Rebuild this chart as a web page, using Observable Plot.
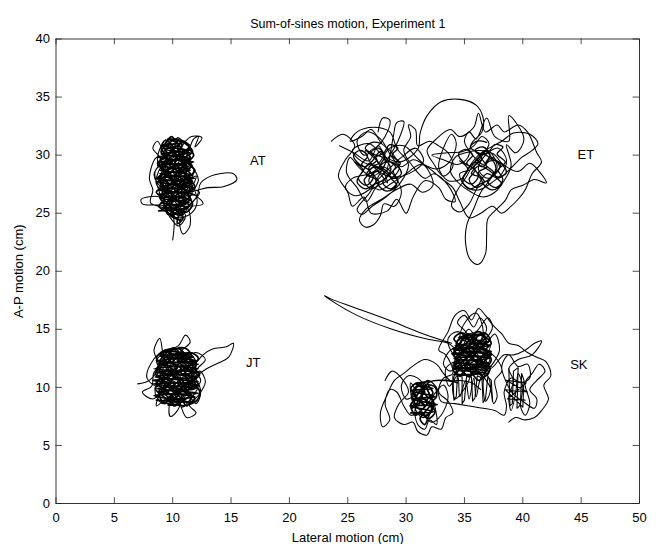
<!DOCTYPE html>
<html>
<head>
<meta charset="utf-8">
<script src="https://cdn.jsdelivr.net/npm/d3@7"></script>
<script src="https://cdn.jsdelivr.net/npm/@observablehq/plot@0.6"></script>
<style>
  html, body { margin: 0; padding: 0; background: #fff; }
  svg { font-family: "Liberation Sans", Arial, sans-serif; }
</style>
</head>
<body>
<div id="chart"></div>
<script>
const titleText = "Sum-of-sines motion, Experiment 1";
const xTicks = [0, 5, 10, 15, 20, 25, 30, 35, 40, 45, 50];
const yTicks = [0, 5, 10, 15, 20, 25, 30, 35, 40];

const AT = [[10.0,22.7],[10.1,24.5],[9.6,25.8],[8.9,26.4],[7.3,26.2],[7.4,25.8],[8.8,25.7],[10.5,25.6],[12.6,25.8],[11.8,26.6],[9.2,27.1],[8.4,28.3],[9.0,29.6],[8.3,30.6],[8.7,31.2],[9.3,30.2],[9.6,31.4],[10.0,30.1],[10.4,31.5],[10.9,31.2],[11.5,30.8],[10.8,29.7],[11.6,29.0],[10.2,28.6],[9.1,28.0],[9.8,27.2],[11.0,27.6],[12.0,28.2],[11.4,26.9],[10.3,26.2],[9.4,26.8],[8.6,27.5],[9.0,29.0],[10.1,29.9],[11.3,29.4],[12.2,27.9],[11.9,27.0],[13.0,27.2],[14.4,27.3],[15.5,27.9],[15.2,28.4],[13.6,28.3],[12.4,27.6],[12.1,26.5],[11.2,25.3],[10.6,24.2],[10.9,23.2],[11.5,24.0],[11.2,25.5],[10.0,25.0],[9.2,25.9],[8.8,27.0],[8.5,28.6],[9.4,29.3],[10.6,28.4],[11.5,27.5],[10.7,26.8],[9.6,27.6],[9.2,28.9],[9.9,30.4],[10.8,30.0],[11.2,28.8],[10.4,27.4],[9.3,26.4],[9.6,25.1],[10.4,24.6],[11.6,25.0],[12.1,26.1],[11.4,27.7],[10.3,28.0],[9.5,28.6],[8.7,29.5],[9.1,30.8],[9.8,29.1],[10.7,29.1],[11.3,30.2],[11.8,31.4],[12.2,31.6],[11.9,30.7],[12.5,31.5],[11.6,31.6],[10.7,30.6],[10.2,29.2],[9.8,28.0],[10.9,27.3],[11.8,28.6],[11.0,29.9],[9.9,29.7],[9.0,28.4],[8.9,27.6],[9.7,26.5],[10.9,26.0],[11.7,26.9],[11.1,28.2],[10.1,27.8],[9.4,27.0],[10.0,26.2],[11.1,24.8],[10.5,23.9],[9.8,24.6],[9.3,25.4],[8.1,25.9],[8.3,27.0],[8.0,28.0],[8.6,29.8],[9.5,30.0],[10.3,30.8],[10.6,29.6],[10.0,28.6],[10.8,27.9],[11.6,27.1],[12.3,26.8],[11.6,25.9],[10.5,25.1],[9.9,26.0],[10.2,27.1],[10.6,28.7],[9.7,29.7],[9.3,28.1],[9.9,27.0]];

const AT_core = [[9.2,25.4],[9.8,26.1],[9.1,26.8],[9.7,27.5],[9.0,28.1],[9.6,28.9],[8.9,29.5],[9.5,30.2],[9.1,30.9],[9.9,30.5],[10.3,29.8],[9.7,29.2],[10.4,28.6],[9.8,27.9],[10.5,27.2],[9.9,26.5],[10.6,25.9],[10.0,25.2],[10.7,24.8],[11.0,25.5],[10.5,26.2],[11.2,26.8],[10.6,27.5],[11.3,28.1],[10.7,28.8],[11.3,29.4],[10.8,30.1],[11.4,30.7],[10.9,31.2],[10.4,30.6],[10.9,30.0],[10.2,29.4],[10.8,28.5],[10.1,27.9],[10.8,27.0],[10.2,26.4],[10.9,25.7],[11.5,26.3],[11.0,27.1],[11.7,27.7],[11.1,28.4],[11.6,29.1],[11.0,29.7],[11.7,30.3],[11.2,30.9],[10.6,31.3],[10.0,30.9],[9.4,31.3],[9.0,30.6],[9.4,29.9],[8.7,29.3],[9.3,28.6],[8.7,28.0],[9.2,27.4],[8.6,26.8],[9.3,26.2],[8.8,25.6],[9.5,25.1],[10.2,24.6],[9.7,25.6],[10.3,26.3],[9.6,26.9],[10.3,27.6],[9.5,28.2],[10.2,28.9],[9.6,29.6],[10.2,30.2],[9.6,30.8],[10.3,31.4],[10.8,30.8],[10.2,30.0],[10.9,29.2],[10.3,28.4],[11.0,27.7],[10.4,27.0],[11.1,26.3],[10.5,25.5],[11.2,25.1],[11.7,25.8],[11.3,26.6],[11.9,27.3],[11.4,28.0],[11.9,28.7],[11.3,29.3],[11.8,30.0],[11.3,30.5],[10.7,29.8],[11.2,29.0],[10.5,28.3],[11.1,27.5],[10.4,26.8],[11.0,26.0],[10.3,25.4],[9.6,24.9],[9.3,25.7],[8.9,26.4],[9.5,27.0],[8.9,27.7],[9.5,28.4],[8.9,29.0],[9.5,29.6],[9.0,30.3],[9.7,31.0],[10.1,30.4],[9.5,29.9],[10.1,29.1],[9.4,28.5],[10.1,27.8],[9.4,27.2],[10.1,26.6],[9.5,25.9],[10.2,25.3],[10.9,24.6],[10.4,24.1],[10.6,25.0],[11.4,25.6],[10.8,26.4],[11.5,27.0],[10.9,27.8],[11.5,28.4],[10.9,29.0],[11.5,29.8],[10.9,30.4],[10.4,31.0],[9.9,31.6],[9.3,30.9]];

const AT_hatch = [[8.8,25.2],[11.3,25.5],[9.0,25.9],[11.6,26.2],[8.7,26.6],[11.8,26.9],[8.9,27.3],[11.5,27.6],[8.6,28.0],[11.7,28.3],[8.9,28.7],[11.4,29.0],[8.8,29.4],[11.6,29.7],[9.0,30.1],[11.3,30.4],[9.2,30.8],[11.0,31.1],[9.6,31.4],[10.6,30.9],[9.4,30.5],[11.5,30.2],[8.8,29.8],[11.8,29.4],[8.7,29.1],[11.5,28.7],[8.9,28.4],[11.9,28.0],[8.6,27.7],[11.6,27.3],[8.8,27.0],[11.9,26.6],[8.9,26.3],[11.4,25.9],[9.2,25.6],[11.0,25.1],[9.8,24.8],[10.6,24.4]];

const ET = [[24.3,30.8],[25.5,30.2],[26.8,29.5],[27.6,30.8],[28.2,29.2],[27.1,28.2],[26.0,28.9],[25.2,29.8],[24.9,28.5],[25.8,27.2],[26.6,26.0],[27.5,27.3],[28.6,27.9],[29.4,28.8],[28.8,30.2],[27.9,31.0],[27.0,32.2],[26.2,31.6],[25.2,31.2],[25.8,32.0],[27.2,32.4],[28.6,32.0],[29.2,30.6],[30.2,29.2],[29.5,27.6],[28.3,26.4],[27.1,25.6],[26.2,24.9],[25.8,25.3],[26.9,26.8],[27.8,28.5],[28.5,29.8],[29.3,31.2],[29.8,32.9],[29.2,32.8],[28.9,31.6],[28.2,28.5],[27.4,29.6],[26.5,30.4],[27.3,28.9],[28.9,28.1],[30.6,28.6],[31.5,29.5],[30.8,30.6],[29.6,29.8],[28.6,28.9],[27.6,27.9],[26.8,27.0],[25.6,26.5],[24.8,27.2],[25.4,28.0],[26.9,28.4],[28.0,29.0],[29.0,28.2],[29.6,26.8],[29.0,25.6],[28.1,25.8],[27.8,24.8],[27.2,24.0],[26.5,23.8],[26.0,24.4],[26.6,25.4],[27.9,26.2],[29.1,27.0],[30.4,27.5],[31.4,26.8],[32.3,27.4],[31.9,28.7],[30.9,29.8],[29.8,30.8],[28.6,30.6],[27.5,29.2],[26.3,29.4],[25.4,30.4],[26.8,31.0],[28.0,30.0],[29.4,29.4],[31.0,30.5],[31.2,31.9],[31.8,33.4],[33.0,34.6],[34.6,34.8],[36.0,34.3],[36.6,33.2],[36.5,32.0],[35.6,31.0],[35.3,29.8],[34.4,29.2],[33.2,29.6],[32.2,30.0],[33.5,30.2],[34.8,30.3],[35.8,30.8],[36.5,31.6],[37.1,31.0],[36.4,29.8],[35.6,28.8],[34.6,28.4],[35.1,27.3],[36.2,27.0],[37.3,27.6],[38.2,28.4],[38.6,29.6],[37.9,30.6],[36.8,30.0],[36.2,28.8],[37.0,28.0],[38.0,28.9],[37.4,29.8],[36.6,29.2],[35.7,30.0],[35.0,31.2],[35.4,32.0],[36.0,31.4],[36.9,33.2],[37.6,31.6],[38.8,31.2],[38.8,33.4],[40.1,31.4],[39.4,30.2],[38.6,30.9],[39.0,29.1],[38.4,27.8],[37.6,26.8],[36.6,26.4],[35.6,26.8],[34.5,27.6],[33.8,28.6],[34.2,29.8],[35.1,30.2],[36.3,30.4],[37.5,30.1],[38.3,29.2],[39.6,28.6],[40.6,29.3],[41.4,28.6],[42.0,27.6],[41.0,27.9],[40.0,27.4],[39.0,27.0],[38.5,26.1],[37.6,25.2],[37.0,24.5],[36.9,23.0],[36.8,21.5],[36.2,20.6],[35.5,21.0],[35.1,22.4],[35.2,24.0],[35.8,25.4],[36.4,26.8],[37.2,27.9],[37.8,29.0],[37.0,30.4],[36.0,29.6],[35.2,28.2],[34.3,26.8],[33.9,25.6],[34.6,25.1],[35.4,25.8],[36.0,27.0],[36.9,28.4],[37.9,28.0],[38.9,28.8],[39.9,29.8],[40.8,30.4],[41.3,31.0],[40.6,31.8],[39.2,31.9],[38.2,31.2],[37.1,30.6],[36.2,30.0],[35.4,29.0],[34.8,28.0],[33.6,27.8],[32.8,28.9],[33.2,30.6],[33.9,31.8],[34.3,31.0],[33.7,29.4],[32.6,28.8],[31.2,29.2],[30.0,28.4],[28.8,27.6],[27.7,27.0],[26.8,27.8],[27.5,28.6],[28.4,27.6],[27.9,28.8],[27.0,29.2]];

const ET_extra = [[23.6,31.2],[24.6,31.8],[25.6,30.8],[24.8,29.6],[24.2,28.2],[25.0,26.8],[25.4,25.6],[26.4,26.4],[27.0,25.0],[28.4,25.2],[29.2,26.2],[30.0,25.0],[30.6,26.4],[31.6,27.8],[32.8,27.2],[33.4,26.2],[34.2,26.0],[33.6,27.4],[32.4,28.4],[31.6,28.0],[30.6,29.0],[29.8,30.4],[30.4,31.6],[30.2,32.6],[30.8,32.2],[31.0,30.8],[32.0,31.2],[32.8,30.8],[33.6,30.2],[34.0,29.0],[33.2,28.2],[32.4,29.2],[31.8,30.4],[32.6,31.4],[33.8,32.2],[34.6,31.6],[35.8,32.4],[36.2,33.6],[36.8,32.0],[37.8,32.6],[38.4,32.0],[39.6,32.6],[40.4,32.0],[41.2,30.2],[41.6,29.4],[40.8,28.4],[40.2,27.0],[39.6,26.2],[39.0,25.6],[38.2,25.0],[37.4,25.6],[36.4,25.0],[35.4,24.6],[34.6,26.0],[34.0,27.2],[33.0,28.0],[31.8,29.0],[30.6,29.6],[29.6,29.0],[28.8,29.8],[27.8,31.4],[26.6,32.0],[25.8,31.2],[26.4,30.0],[27.4,30.6],[28.2,31.6],[28.6,33.0],[28.0,33.2],[27.6,32.0]];

const ET_left = [[25.6,29.4],[26.3,28.7],[25.9,28.0],[26.6,27.4],[27.2,28.1],[26.8,28.9],[27.5,29.6],[26.9,30.3],[27.6,30.6],[28.2,29.9],[27.8,29.1],[28.5,28.4],[28.0,27.6],[28.7,27.1],[29.3,27.8],[28.9,28.6],[29.5,29.3],[28.8,30.0],[29.3,30.6],[28.6,30.9],[28.1,30.2],[27.4,29.8],[27.9,28.9],[27.2,28.4],[27.7,27.6],[27.0,27.1],[26.4,27.8],[26.9,28.6],[26.2,29.2],[26.7,29.9],[26.1,30.4],[25.5,30.0],[25.9,29.3],[26.5,29.0],[27.1,29.5],[27.8,30.3],[28.4,29.6],[29.1,29.0],[28.6,28.2],[29.2,27.4],[28.4,26.9],[27.7,27.3],[27.3,28.0],[26.6,28.3],[27.3,29.0],[28.1,28.6],[28.9,28.0],[29.6,28.4],[29.0,29.3],[28.2,29.4],[27.5,28.9],[26.9,29.3],[26.2,28.5],[25.8,27.7],[26.5,27.1],[27.3,27.5],[28.1,27.9],[28.7,28.8],[28.0,29.8],[27.2,30.1],[26.5,30.6],[27.1,31.1],[27.9,31.0]];

const ET_right = [[34.6,29.5],[35.3,28.8],[34.9,28.0],[35.6,27.5],[36.2,28.2],[35.8,29.0],[36.5,29.7],[35.9,30.4],[36.6,30.7],[37.2,30.0],[36.8,29.2],[37.5,28.5],[37.0,27.7],[37.7,27.2],[38.3,27.9],[37.9,28.7],[38.5,29.4],[37.8,30.1],[38.3,30.7],[37.6,30.9],[37.1,30.3],[36.4,29.9],[36.9,29.0],[36.2,28.5],[36.7,27.7],[36.0,27.2],[35.4,27.9],[35.9,28.7],[35.2,29.3],[35.7,30.0],[35.1,30.5],[34.5,30.1],[34.9,29.4],[35.5,29.1],[36.1,29.6],[36.8,30.4],[37.4,29.7],[38.1,29.1],[37.6,28.3],[38.2,27.5],[37.4,27.0],[36.7,27.4],[36.3,28.1],[35.6,28.4],[36.3,29.1],[37.1,28.7],[37.9,28.1],[38.6,28.5],[38.0,29.4],[37.2,29.5],[36.5,29.0],[35.9,29.4],[35.2,28.6],[34.8,27.8],[35.5,27.1],[36.3,27.5],[37.1,27.9],[37.7,28.9],[37.0,29.9],[36.2,30.2],[35.5,30.7],[36.1,31.2],[36.9,31.1]];

const JT = [[7.0,10.3],[8.0,10.6],[8.8,11.8],[8.4,13.2],[8.9,14.2],[9.3,12.6],[10.1,13.4],[10.6,12.2],[11.3,13.0],[12.0,12.1],[11.4,11.0],[12.2,10.2],[11.6,9.1],[10.8,8.3],[10.1,9.4],[9.2,8.6],[8.5,9.5],[8.9,10.8],[9.8,11.6],[10.9,11.2],[11.8,11.9],[12.6,12.8],[13.4,13.3],[14.6,13.5],[15.2,13.8],[14.8,12.6],[13.9,12.1],[12.9,11.6],[12.1,11.0],[11.2,10.2],[10.3,10.4],[9.4,11.1],[8.6,12.3],[9.5,13.1],[10.5,13.6],[11.1,14.5],[11.5,13.9],[10.8,13.2],[10.2,12.4],[9.6,11.6],[9.0,10.2],[9.6,9.2],[10.5,9.8],[11.3,9.4],[12.0,8.6],[12.4,9.6],[11.9,10.9],[11.0,11.8],[10.1,12.0],[9.3,12.0],[8.4,11.3],[8.2,10.1],[7.4,9.6],[8.3,9.0],[9.2,9.9],[10.0,10.8],[10.8,12.6],[11.6,12.3],[11.0,11.1],[10.2,9.8],[9.7,8.4],[9.8,7.5],[10.4,8.0],[10.9,9.2],[11.6,10.3],[12.3,11.4],[12.8,10.5],[12.2,9.3],[11.4,8.5],[12.0,7.8],[11.2,7.4],[10.6,8.6],[10.0,9.6],[9.1,10.5],[8.6,11.5],[9.2,12.4],[10.1,12.9],[10.9,12.0],[10.4,11.2],[9.6,10.2],[8.8,9.2],[8.6,8.4],[9.4,9.0],[10.4,9.4],[11.4,10.2],[12.1,11.6],[12.8,12.4],[12.0,13.0],[11.2,12.6],[10.3,11.8],[9.4,10.8],[8.7,10.1],[7.8,10.8],[8.1,12.0],[9.0,12.9],[9.9,12.1],[10.6,11.0],[11.2,9.7],[10.7,8.8],[9.9,8.8],[9.3,9.8],[9.9,11.0],[11.0,10.6],[11.8,11.2],[11.4,12.4],[10.5,13.0],[9.7,12.4],[9.1,11.3],[9.8,10.0],[10.8,9.9],[11.7,9.8],[12.4,10.6],[11.6,11.5],[10.6,11.5],[9.7,11.0]];

const JT_core = [[8.6,9.2],[9.2,9.8],[8.6,10.4],[9.3,11.0],[8.7,11.7],[9.3,12.3],[8.9,12.9],[9.6,13.2],[10.0,12.6],[9.5,12.0],[10.1,11.4],[9.5,10.8],[10.2,10.2],[9.6,9.6],[10.2,9.0],[9.6,8.5],[10.4,8.6],[10.8,9.3],[10.3,9.9],[10.9,10.5],[10.3,11.1],[11.0,11.7],[10.4,12.3],[11.0,12.9],[10.5,13.4],[11.2,13.3],[11.6,12.7],[11.0,12.1],[11.7,11.5],[11.1,10.8],[11.8,10.2],[11.2,9.6],[11.9,9.0],[11.3,8.5],[12.1,8.9],[12.3,9.7],[11.7,10.4],[12.3,11.1],[11.7,11.8],[12.2,12.5],[11.5,13.0],[10.9,12.5],[11.4,11.9],[10.7,11.3],[11.4,10.6],[10.7,10.0],[11.4,9.3],[10.8,8.8],[10.1,8.4],[9.9,9.2],[9.3,8.6],[8.8,9.6],[9.4,10.3],[8.9,11.0],[9.5,11.6],[8.9,12.2],[9.4,12.9],[10.1,13.4],[10.6,12.8],[10.0,12.2],[10.7,11.6],[10.0,11.0],[10.7,10.4],[10.0,9.8],[10.7,9.1],[11.2,8.4],[11.6,9.3],[11.0,10.0],[11.6,10.7],[11.0,11.4],[11.7,12.1],[11.1,12.8],[10.3,12.9],[9.8,12.3],[10.4,11.7],[9.8,11.2],[10.5,10.6],[9.9,10.0],[10.5,9.4],[9.8,8.9],[9.1,9.3],[8.5,9.9],[9.1,10.6],[8.5,11.2],[9.1,11.9],[8.6,12.5],[9.2,13.1],[9.8,12.8],[9.3,12.1],[9.9,11.6],[9.3,10.9],[9.9,10.4],[9.3,9.8],[9.9,9.4],[10.6,9.8],[11.2,10.3],[12.0,10.0],[11.6,11.2],[12.0,11.9],[11.4,12.5],[10.8,12.2],[10.2,12.7]];

const JT_hatch = [[8.6,8.9],[11.6,8.7],[8.4,9.3],[12.2,9.5],[8.6,9.9],[12.3,10.2],[8.3,10.6],[12.1,10.9],[8.5,11.3],[12.2,11.6],[8.7,12.0],[12.0,12.3],[8.9,12.7],[11.6,12.9],[9.3,13.2],[10.8,13.4],[9.0,12.9],[11.8,12.6],[8.6,12.3],[12.2,12.0],[8.4,11.6],[12.3,11.3],[8.5,10.9],[12.2,10.5],[8.3,10.3],[12.0,9.9],[8.7,9.6],[11.9,9.2],[9.0,8.8],[11.0,8.4]];

const SK = [[33.9,13.8],[31.5,14.6],[28.5,15.8],[25.5,16.9],[23.6,17.6],[23.0,17.9],[23.4,17.6],[25.8,16.2],[28.8,15.0],[31.6,14.2],[33.6,13.8],[34.5,13.2],[35.2,14.6],[34.4,15.6],[35.0,16.2],[35.8,15.2],[36.3,16.0],[36.9,15.1],[36.4,13.6],[37.2,12.8],[36.6,11.4],[35.5,12.0],[34.6,11.0],[34.2,12.4],[35.4,13.4],[36.2,12.6],[35.0,12.0],[34.0,12.9],[33.6,14.2],[34.4,14.8],[35.6,14.0],[36.8,13.8],[37.6,14.6],[38.0,13.2],[37.4,12.0],[36.4,10.8],[36.0,9.2],[35.8,10.8],[35.4,9.0],[35.1,10.6],[34.6,9.2],[34.4,11.0],[33.7,10.1],[33.4,11.6],[34.3,12.2],[35.3,11.0],[36.1,11.8],[37.0,11.0],[37.2,9.6],[36.8,8.8],[36.6,10.4],[36.9,12.2],[36.1,13.2],[35.2,12.6],[34.3,13.6],[34.8,14.4],[36.0,14.8],[37.0,16.0],[37.4,15.2],[36.8,14.2],[35.8,13.6],[34.8,13.0],[34.0,11.8],[35.0,11.4],[36.2,12.2],[37.0,13.0],[37.8,12.4],[38.2,11.4],[37.6,10.6],[37.8,9.2],[37.5,8.6],[37.2,10.0],[36.4,11.2],[35.2,12.4],[34.7,13.8],[35.4,15.0],[36.0,13.8],[35.6,12.8],[34.8,12.2],[33.8,11.4],[33.2,12.0],[33.8,13.2],[35.0,13.6],[36.2,13.4],[37.2,13.6],[36.6,12.4],[35.8,11.6],[35.2,10.2],[34.2,9.0],[34.0,10.4],[34.6,12.0],[35.6,13.0],[36.6,14.6],[36.0,16.4],[35.2,15.8],[34.6,14.2],[35.4,12.6],[36.4,12.0],[37.2,11.6],[38.4,12.8],[39.2,12.8],[40.2,13.2],[41.0,13.8],[41.6,14.0],[40.8,12.8],[39.6,12.4],[38.8,11.6],[39.2,10.6],[38.8,9.2],[39.0,8.0],[39.4,9.6],[39.6,11.2],[40.0,10.0],[39.8,8.4],[40.2,7.6],[40.6,8.6],[40.2,10.4],[40.8,11.2],[41.4,12.0],[41.9,11.4],[41.2,10.6],[40.6,9.8],[41.2,9.0],[41.0,8.2],[40.0,8.8],[39.2,9.4],[38.6,10.4],[38.2,11.8],[38.8,12.8],[39.6,11.8],[40.4,12.0],[40.6,10.8],[39.8,10.4],[39.0,10.8],[38.4,9.6],[38.6,8.4],[38.4,7.6],[37.6,8.0],[36.6,8.2],[35.4,8.4],[34.2,8.6],[33.0,8.8],[32.6,10.0],[31.8,10.6],[31.0,9.6],[30.4,10.4],[30.6,8.6],[31.4,7.4],[32.2,8.0],[31.6,9.0],[30.8,8.2],[31.0,6.8],[31.6,6.4],[32.0,7.2],[32.6,6.8],[32.4,8.6],[31.8,9.8],[31.0,10.8],[30.2,11.0],[29.6,10.2],[30.0,9.0],[30.8,9.2],[31.6,8.4],[32.4,9.4],[33.2,10.2],[33.6,9.2],[33.0,7.6],[32.2,7.0],[31.2,7.8],[30.4,7.6],[29.8,8.4],[29.2,9.6],[28.6,9.8],[28.2,8.6],[28.6,7.2],[28.0,6.6],[27.8,7.8],[28.4,9.4],[29.0,10.6],[29.8,11.2],[30.8,12.0],[31.6,12.4],[32.6,12.0],[33.2,11.2],[33.8,10.6],[34.6,10.6],[35.6,10.4],[36.4,9.8]];

const SK_extra = [[28.2,10.6],[28.8,11.4],[29.6,10.8],[30.2,9.6],[29.4,8.6],[29.0,7.4],[29.8,6.8],[30.6,7.0],[31.0,6.2],[31.8,5.9],[32.2,6.6],[33.0,6.4],[33.4,7.4],[34.0,7.8],[33.6,8.8],[32.8,9.6],[33.2,10.8],[34.0,11.2],[33.4,12.8],[32.8,13.2],[33.6,14.8],[34.2,16.2],[35.0,16.6],[35.6,15.8],[36.2,16.8],[36.8,16.2],[37.4,15.4],[38.2,14.6],[38.8,13.8],[39.6,13.6],[40.4,13.0],[41.2,12.6],[42.0,12.2],[42.4,11.0],[41.8,10.2],[42.2,9.0],[41.6,8.0],[41.0,7.4],[40.2,7.2],[39.4,7.4],[38.8,7.0]];

const SK_main = [[34.2,11.2],[34.8,11.8],[34.2,12.5],[34.9,13.1],[34.3,13.8],[35.0,14.4],[35.5,13.8],[34.9,13.2],[35.6,12.6],[35.0,11.9],[35.7,11.3],[36.2,11.9],[35.6,12.6],[36.3,13.2],[35.7,13.9],[36.4,14.5],[36.9,13.9],[36.3,13.2],[37.0,12.6],[36.4,11.9],[37.1,11.3],[36.6,10.9],[36.0,11.4],[35.4,10.9],[34.8,11.4],[34.1,11.9],[34.7,12.5],[34.1,13.2],[34.7,13.9],[35.3,14.6],[35.9,14.0],[35.3,13.4],[35.9,12.8],[35.3,12.1],[35.9,11.6],[36.5,12.2],[35.9,12.9],[36.6,13.5],[36.0,14.2],[36.7,14.7],[37.2,14.1],[36.6,13.5],[37.3,12.9],[36.7,12.2],[37.2,11.6],[36.8,11.0],[36.2,10.6],[35.8,11.0],[35.2,11.6],[34.6,11.0],[34.0,11.6],[34.5,12.2],[34.0,12.9],[34.6,13.5],[34.1,14.2],[34.8,14.7],[35.4,14.1],[34.8,13.4],[35.5,12.9],[34.9,12.2],[35.5,11.5],[36.1,12.1],[35.5,12.8],[36.1,13.5],[35.6,14.3],[36.2,14.8],[36.8,14.3],[36.2,13.6],[36.9,13.0],[36.3,12.4],[36.9,11.8],[37.3,12.4],[36.8,13.2],[37.3,13.8],[36.7,14.4]];

const SK_hatch = [[34.1,11.1],[37.0,11.2],[34.0,11.6],[37.3,11.8],[34.2,12.2],[37.2,12.5],[33.9,12.9],[37.3,13.1],[34.2,13.6],[37.0,13.9],[34.5,14.3],[36.6,14.6],[34.8,14.1],[37.2,13.6],[34.0,13.3],[37.3,12.8],[34.1,12.5],[37.1,12.1],[34.3,11.8],[36.9,11.4],[34.6,11.0]];

const SK_lower = [[30.5,8.2],[31.0,8.8],[30.6,9.5],[31.1,10.1],[31.6,9.6],[31.1,9.0],[31.6,8.4],[31.1,7.8],[31.7,7.6],[32.2,8.2],[31.8,8.9],[32.3,9.5],[31.9,10.2],[32.5,10.0],[32.6,9.2],[32.1,8.6],[32.5,7.9],[31.9,7.3],[31.3,7.9],[30.8,7.6],[30.4,8.5],[30.9,9.2],[30.4,9.9],[31.0,10.4],[31.5,10.0],[31.3,9.3],[31.8,8.7],[31.3,8.1],[30.7,8.6],[31.3,9.7],[31.8,9.2],[32.3,8.8],[31.8,8.1],[31.2,7.3],[31.6,6.8],[32.0,7.7],[32.4,8.5],[32.0,9.4],[31.5,10.4],[30.8,10.0],[30.5,9.3],[31.0,8.4],[31.9,10.4],[33.4,10.6],[34.4,10.4]];

const SK_lower_hatch = [[30.4,7.8],[32.4,7.9],[30.3,8.4],[32.7,8.5],[30.5,9.0],[32.5,9.2],[30.4,9.7],[32.3,9.9],[30.8,10.3],[31.9,10.5]];

const SK_stripes = [[34.0,11.0],[34.1,8.9],[34.3,9.2],[34.4,11.0],[34.8,10.9],[34.8,8.6],[35.0,8.9],[35.2,11.1],[35.6,10.9],[35.7,8.8],[35.9,9.1],[36.1,11.0],[36.5,10.8],[36.6,8.7],[36.8,9.0],[37.0,10.9],[37.3,10.6],[37.4,8.8]];

const SK_right = [[38.8,11.6],[38.9,8.4],[39.1,8.6],[39.2,11.4],[39.6,11.7],[39.5,8.2],[39.8,8.5],[39.9,11.2],[40.1,10.6],[40.0,8.3],[38.5,9.8],[40.4,9.6],[38.6,10.6],[40.3,10.4],[38.7,9.0],[40.2,8.9]];

const subjects = [
  {name: "AT", x: 17.3, y: 29.5},
  {name: "ET", x: 45.4, y: 30.0},
  {name: "JT", x: 16.9, y: 12.1},
  {name: "SK", x: 44.8, y: 11.9}
];

const outerTracks = {AT, ET, ET_extra, JT, SK, SK_extra};
const coreTracks = {AT_core, AT_hatch, JT_core, JT_hatch, SK_main, SK_hatch, SK_lower, SK_lower_hatch};
const meshTracks = {ET_left, ET_right};
const straightTracks = {SK_stripes, SK_right};
function toRows(obj) {
  const out = [];
  for (const [name, pts] of Object.entries(obj)) pts.forEach(([x, y]) => out.push({track: name, x, y}));
  return out;
}

const chart = Plot.plot({
  width: 662,
  height: 544,
  marginLeft: 55.5,
  marginRight: 23,
  marginTop: 38.5,
  marginBottom: 41,
  style: {fontFamily: "'Liberation Sans', Arial, sans-serif", fontSize: "13px", background: "white", color: "black"},
  x: {domain: [0, 50], ticks: xTicks},
  y: {domain: [0, 40], ticks: yTicks},
  marks: [
    Plot.line(toRows(outerTracks), {x: "x", y: "y", z: "track", curve: "catmull-rom", stroke: "black", strokeWidth: 1.05}),
    Plot.line(toRows(meshTracks), {x: "x", y: "y", z: "track", curve: "catmull-rom", stroke: "black", strokeWidth: 1.3}),
    Plot.line(toRows(coreTracks), {x: "x", y: "y", z: "track", curve: "catmull-rom", stroke: "black", strokeWidth: 1.7}),
    Plot.line(toRows(straightTracks), {x: "x", y: "y", z: "track", curve: "linear", stroke: "black", strokeWidth: 1.1}),
    Plot.ruleX(xTicks, {x: d => d, y1: 0, y2: 0.5, stroke: "#222", strokeWidth: 0.8}),
    Plot.ruleX(xTicks, {x: d => d, y1: 40, y2: 39.5, stroke: "#222", strokeWidth: 0.8}),
    Plot.ruleY(yTicks, {y: d => d, x1: 0, x2: 0.55, stroke: "#222", strokeWidth: 0.8}),
    Plot.ruleY(yTicks, {y: d => d, x1: 50, x2: 49.45, stroke: "#222", strokeWidth: 0.8}),
    Plot.frame({stroke: "#222", strokeWidth: 0.9}),
    Plot.axisX(xTicks, {anchor: "bottom", tickSize: 0, tickPadding: 9, fontSize: 13, label: "Lateral motion (cm)", labelAnchor: "center", labelArrow: "none", labelOffset: 38}),
    Plot.axisY(yTicks, {anchor: "left", tickSize: 0, tickPadding: 6, fontSize: 13, label: "A-P motion (cm)", labelAnchor: "center", labelArrow: "none", labelOffset: 42}),
    Plot.text(subjects, {x: "x", y: "y", text: "name", fontSize: 13, fill: "black"}),
    Plot.text([titleText], {frameAnchor: "top", dy: -20, text: d => d, fontSize: 12.5, fill: "black"})
  ]
});
document.getElementById("chart").appendChild(chart);
</script>
</body>
</html>
